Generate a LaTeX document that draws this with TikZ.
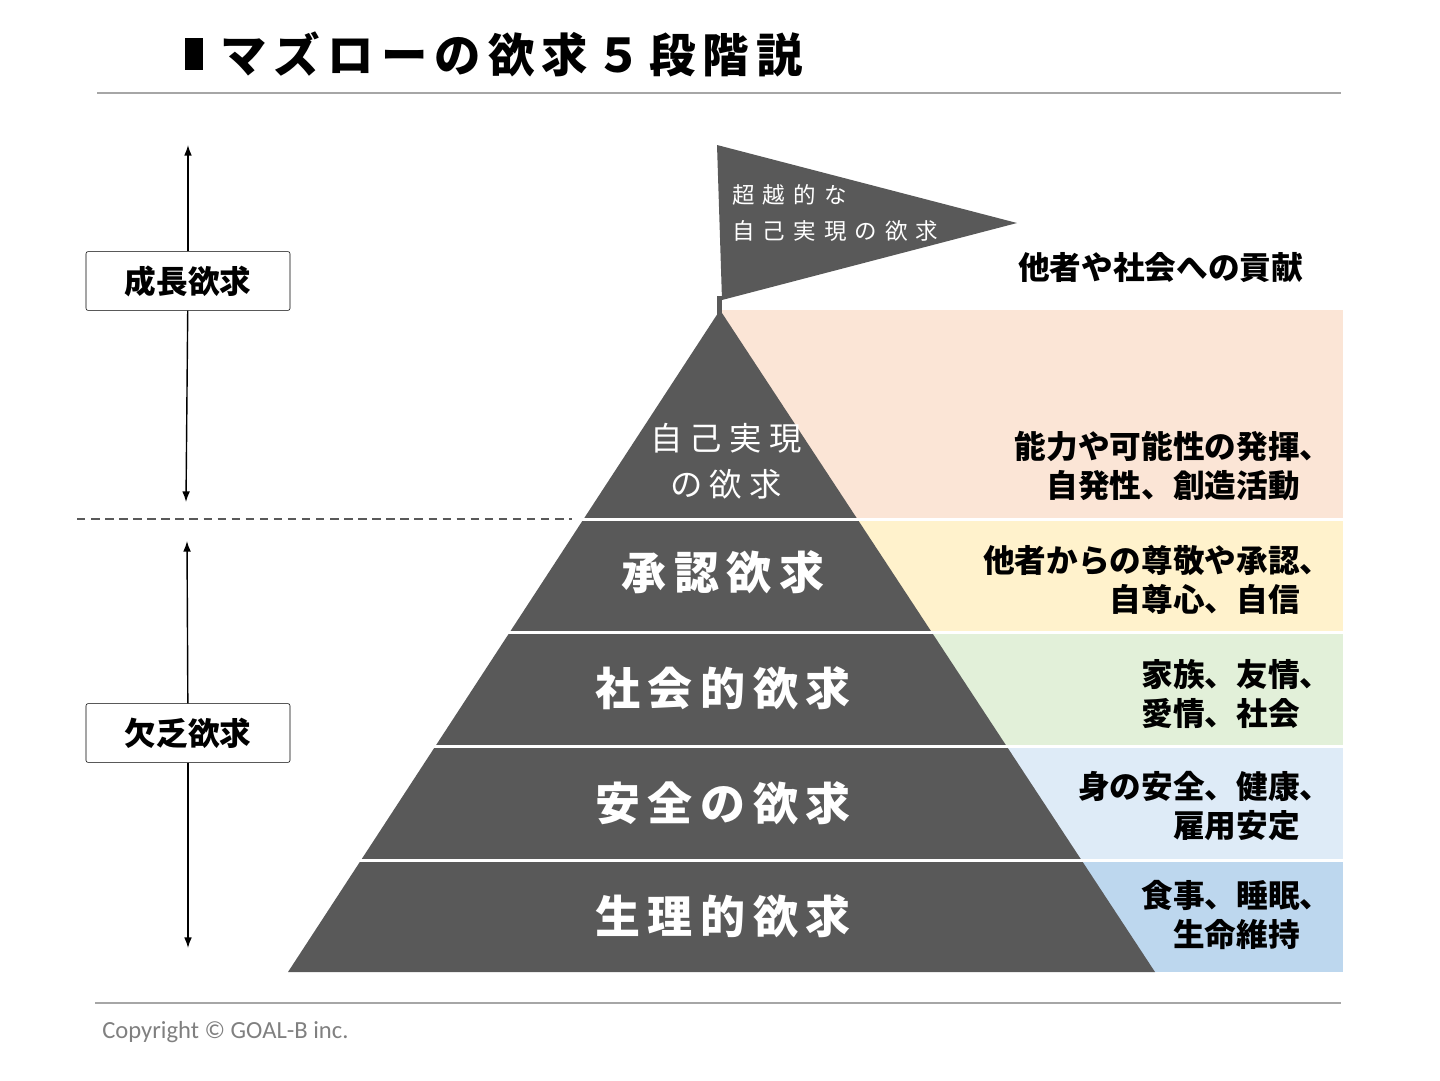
\documentclass[tikz,border=0pt]{standalone}
\usepackage{fontspec}
\newfontfamily\jp{Noto Sans CJK JP}
\newfontfamily\cprt{Carlito}
\usetikzlibrary{arrows.meta}
\definecolor{pyr}{HTML}{595959}
\definecolor{bandA}{HTML}{FBE5D6}
\definecolor{bandB}{HTML}{FFF2CC}
\definecolor{bandC}{HTML}{E2F0D9}
\definecolor{bandD}{HTML}{DEEBF7}
\definecolor{bandE}{HTML}{BDD7EE}
\definecolor{rulegray}{HTML}{A6A6A6}

\begin{document}
\begin{tikzpicture}[x=0.025cm, y=-0.025cm,
    lvl/.style={text=white, inner sep=0pt, font=\jp\bfseries\fontsize{32}{38}\selectfont\addfontfeatures{LetterSpace=17}},
    need/.style={font=\jp\bfseries\fontsize{22.5}{28}\selectfont, align=right, anchor=east, inner sep=0pt},
    sidebox/.style={draw=black, fill=white, rounded corners=1.5pt, minimum width=5.1cm, minimum height=1.47cm, font=\jp\bfseries\fontsize{22.5}{28}\selectfont},
    sep/.style={white, line width=2.5pt},
    arr/.style={-{Latex[length=7.5pt, width=5.5pt]}, line width=1pt}]
    \useasboundingbox (0,0) rectangle (1440,1080);

    % title
    \fill[black] (185,38) rectangle (203,70);
    \node[anchor=west, inner sep=0pt, font=\jp\bfseries\fontsize{33}{40}\selectfont\addfontfeatures{LetterSpace=15.5}] (title) at (220,54) {マズローの欲求５段階説};
    \draw[rulegray, line width=1.5pt] (97,93) -- (1341,93);
    \draw[rulegray, line width=1.5pt] (95,1003) -- (1341,1003);
    \node[anchor=west, inner sep=0pt, text=black!50, font=\cprt\fontsize{17.5}{20}\selectfont] (copy) at (102,1032) {Copyright © GOAL-B inc.};

    % colour bands
    \fill[bandA] (720,310) rectangle (1343,519.5);
    \fill[bandB] (720,519.5) rectangle (1343,632.5);
    \fill[bandC] (720,632.5) rectangle (1343,746.5);
    \fill[bandD] (720,746.5) rectangle (1343,860.5);
    \fill[bandE] (720,860.5) rectangle (1343,972);

    % pyramid and flag
    \fill[pyr] (720,310) -- (1155,972) -- (288,972) -- cycle;
    \fill[pyr] (717,145) -- (1017,223) -- (722,300) -- cycle;
    \draw[pyr, line width=3.5pt] (719.5,296) -- (719.5,314);
    \foreach \y in {519.5,632.5,746.5,860.5}
        \draw[sep] (280,\y) -- (1345,\y);

    % labels in the pyramid
    \node[text=white, anchor=west, inner sep=0pt, align=left, font=\jp\fontsize{16}{25}\selectfont\addfontfeatures{LetterSpace=36}] (flag) at (732,213) {超越的な\\自己実現の欲求};
    \node[text=white, inner sep=0pt, align=center, font=\jp\fontsize{23}{33}\selectfont\addfontfeatures{LetterSpace=23}] (self) at (726,461) {自己実現\\の欲求};
    \node[lvl] (esteem) at (723,572) {承認欲求};
    \node[lvl] (social) at (723,688) {社会的欲求};
    \node[lvl] (safety) at (723,803) {安全の欲求};
    \node[lvl] (body) at (723,916) {生理的欲求};

    % right column
    \node[need, anchor=west] (give) at (1018,268) {他者や社会への貢献};
    \node[need] (needA) at (1300,466) {能力や可能性の発揮\rlap{、}\\自発性、創造活動};
    \node[need] (needB) at (1300,580) {他者からの尊敬や承認\rlap{、}\\自尊心、自信};
    \node[need] (needC) at (1300,694) {家族、友情\rlap{、}\\愛情、社会};
    \node[need] (needD) at (1300,806) {身の安全、健康\rlap{、}\\雇用安定};
    \node[need] (needE) at (1300,915) {食事、睡眠\rlap{、}\\生命維持};

    % left column
    \draw[pyr, dashed, line width=1pt, dash pattern=on 6pt off 4pt] (77,519) -- (572,519);
    \coordinate (gtop) at (188,145);
    \coordinate (gbot) at (186,502);
    \coordinate (dtop) at (187,541);
    \coordinate (dbot) at (188,948);
    \node[sidebox] (grow) at (188,281) {成長欲求};
    \node[sidebox] (lack) at (188,733) {欠乏欲求};
    \draw[arr] (grow) -- (gtop);
    \draw[arr] (grow) -- (gbot);
    \draw[arr] (lack) -- (dtop);
    \draw[arr] (lack) -- (dbot);
\end{tikzpicture}
\end{document}
